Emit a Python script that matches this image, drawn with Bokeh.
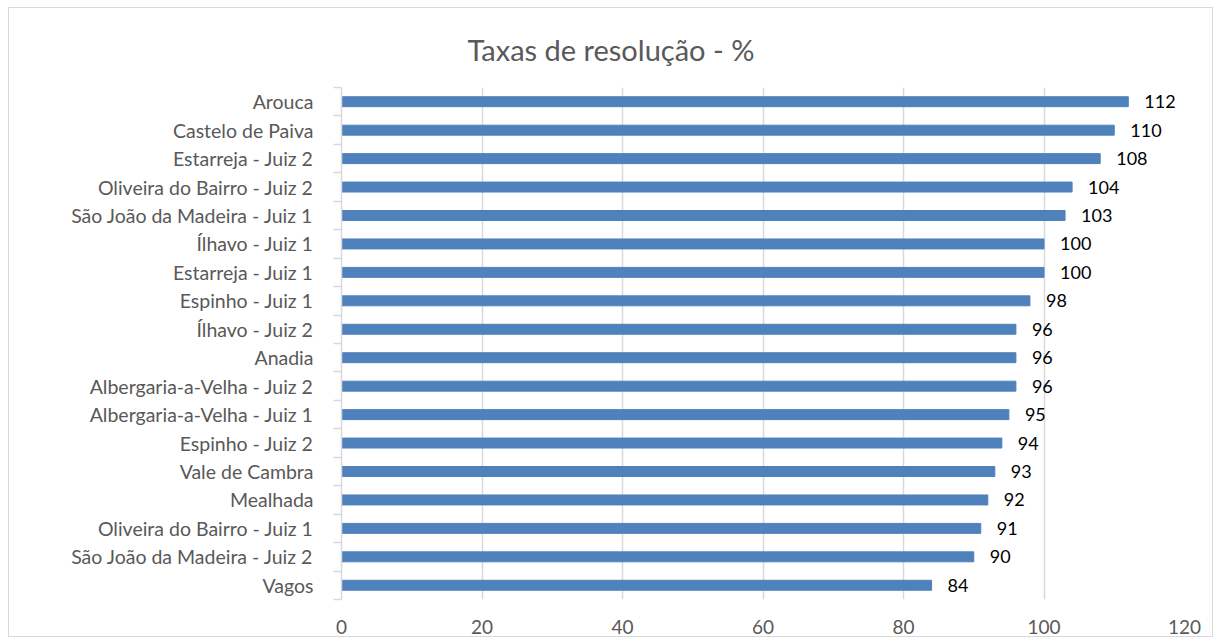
from bokeh.plotting import figure
from bokeh.models import ColumnDataSource, FixedTicker, LabelSet, Range1d
from bokeh.core.properties import value
from bokeh.embed import file_html
from bokeh.resources import INLINE

categories = [
    "Arouca", "Castelo de Paiva", "Estarreja - Juiz 2", "Oliveira do Bairro - Juiz 2",
    "São João da Madeira - Juiz 1", "Ílhavo - Juiz 1", "Estarreja - Juiz 1",
    "Espinho - Juiz 1", "Ílhavo - Juiz 2", "Anadia", "Albergaria-a-Velha - Juiz 2",
    "Albergaria-a-Velha - Juiz 1", "Espinho - Juiz 2", "Vale de Cambra", "Mealhada",
    "Oliveira do Bairro - Juiz 1", "São João da Madeira - Juiz 2", "Vagos",
]
values = [112, 110, 108, 104, 103, 100, 100, 98, 96, 96, 96, 95, 94, 93, 92, 91, 90, 84]
x_ticks = [0, 20, 40, 60, 80, 100, 120]
title_text = "Taxas de resolução - %"

FONT = "Lato"
GREY = "#595959"
n = len(categories)
ypos = [n - 1 - i for i in range(n)]
src = ColumnDataSource(dict(y=ypos, v=values, lab=[str(v) for v in values], cat=categories))

p = figure(width=1205, height=630, output_backend="svg", toolbar_location=None,
           x_range=Range1d(0, 120), y_range=Range1d(-0.5, n - 0.5),
           min_border_left=332, min_border_right=30, min_border_top=79, min_border_bottom=39,
           title=title_text)
p.styles = {"border": "1px solid #d9d9d9", "margin": "7px 0 0 8px"}
p.outline_line_color = None
p.title.align = "left"
p.title.offset = 126
p.title.text_font = FONT
p.title.text_font_size = "29px"
p.title.text_font_style = "normal"
p.title.text_color = GREY
p.title.standoff = 41

p.hbar(y="y", right="v", left=0, height=0.35, color="#4F81BD", source=src)
p.add_layout(LabelSet(x="v", y="y", text="lab", source=src, x_offset=16,
                      text_align="left", text_baseline="middle",
                      text_font=value(FONT), text_font_size="18px", text_color="black"))

# x axis
p.xaxis.ticker = FixedTicker(ticks=x_ticks)
p.xaxis.axis_line_color = None
p.xaxis.major_tick_line_color = None
p.xaxis.minor_tick_line_color = None
p.xaxis.major_label_text_font = FONT
p.xaxis.major_label_text_font_size = "19px"
p.xaxis.major_label_text_color = GREY
p.xaxis.major_label_standoff = 14
p.xgrid.ticker = FixedTicker(ticks=x_ticks)
p.xgrid.grid_line_color = "#d9d9d9"
p.xgrid.grid_line_width = 1.5
p.ygrid.grid_line_color = None

# y axis
p.yaxis.ticker = FixedTicker(ticks=ypos, minor_ticks=[k - 0.5 for k in range(n + 1)])
p.yaxis.major_label_overrides = {y: c for y, c in zip(ypos, categories)}
p.yaxis.axis_line_color = "#d9d9d9"
p.yaxis.axis_line_width = 1.5
p.yaxis.major_tick_line_color = None
p.yaxis.minor_tick_line_color = "#d9d9d9"
p.yaxis.minor_tick_line_width = 1.5
p.yaxis.minor_tick_out = 8
p.yaxis.minor_tick_in = 0
p.yaxis.major_label_text_font = FONT
p.yaxis.major_label_text_font_size = "19.5px"
p.yaxis.major_label_text_color = GREY
p.yaxis.major_label_standoff = 20

open("out.html", "w").write(file_html(p, INLINE))
